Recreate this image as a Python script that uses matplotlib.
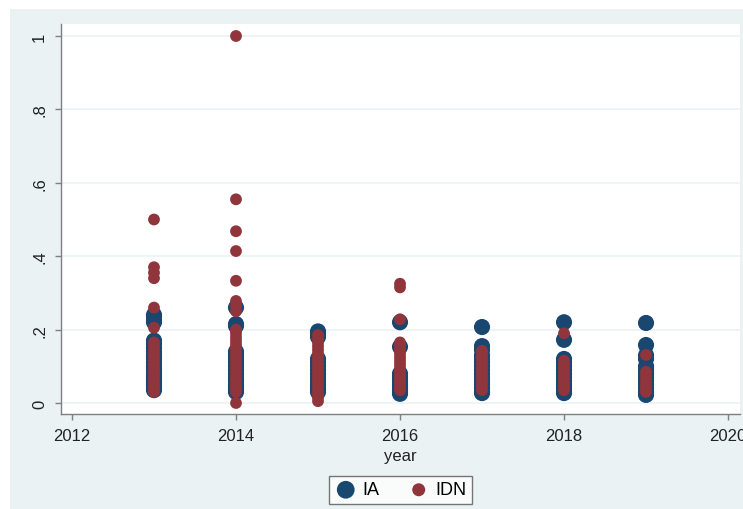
import matplotlib
matplotlib.use("Agg")
import matplotlib.pyplot as plt
from matplotlib.patches import Rectangle

plt.rcParams["font.family"] = ["Liberation Sans", "DejaVu Sans"]

# values by year, one list per group
ia_2013 = [0.24, 0.235, 0.225, 0.22, 0.17, 0.16, 0.15, 0.14, 0.13, 0.125, 0.12, 0.11,
           0.10, 0.095, 0.09, 0.08, 0.075, 0.07, 0.065, 0.06, 0.055, 0.05, 0.045, 0.04, 0.035]
idn_2013 = [0.50, 0.37, 0.355, 0.34, 0.26, 0.205, 0.165, 0.155, 0.145, 0.135, 0.125, 0.115,
            0.105, 0.095, 0.085, 0.075, 0.065, 0.055, 0.045, 0.035, 0.03]

ia_2014 = [0.26, 0.215, 0.21, 0.14, 0.13, 0.12, 0.11, 0.10, 0.09, 0.08, 0.07, 0.065,
           0.06, 0.05, 0.045, 0.04, 0.035, 0.03]
idn_2014 = [1.0, 0.555, 0.468, 0.414, 0.333, 0.278, 0.265, 0.25, 0.20, 0.19, 0.18, 0.17,
            0.16, 0.15, 0.14, 0.13, 0.12, 0.11, 0.10, 0.09, 0.08, 0.07, 0.06, 0.05,
            0.04, 0.03, 0.0]

ia_2015 = [0.195, 0.19, 0.18, 0.12, 0.11, 0.10, 0.09, 0.08, 0.07, 0.06, 0.05, 0.04,
           0.035, 0.03]
idn_2015 = [0.185, 0.175, 0.165, 0.155, 0.145, 0.135, 0.125, 0.115, 0.105, 0.095, 0.085,
            0.075, 0.065, 0.055, 0.045, 0.035, 0.025, 0.015, 0.005]

ia_2016 = [0.22, 0.153, 0.08, 0.07, 0.06, 0.05, 0.045, 0.04, 0.035, 0.03, 0.025]
idn_2016 = [0.325, 0.315, 0.228, 0.165, 0.155, 0.145, 0.135, 0.125, 0.115, 0.105, 0.095,
            0.085, 0.075, 0.065, 0.055, 0.045, 0.035]

ia_2017 = [0.207, 0.155, 0.145, 0.13, 0.12, 0.11, 0.10, 0.09, 0.08, 0.07, 0.06, 0.05,
           0.04, 0.03, 0.027]
idn_2017 = [0.142, 0.135, 0.125, 0.115, 0.105, 0.095, 0.085, 0.075, 0.065, 0.055, 0.045,
            0.035]

ia_2018 = [0.22, 0.172, 0.12, 0.11, 0.10, 0.09, 0.08, 0.07, 0.06, 0.05, 0.04, 0.03, 0.027]
idn_2018 = [0.19, 0.115, 0.105, 0.095, 0.085, 0.075, 0.065, 0.055, 0.045, 0.035]

ia_2019 = [0.218, 0.158, 0.13, 0.12, 0.10, 0.09, 0.08, 0.07, 0.06, 0.05, 0.04, 0.03, 0.022]
idn_2019 = [0.131, 0.085, 0.075, 0.065, 0.055, 0.045, 0.035, 0.03]

years = [2013, 2014, 2015, 2016, 2017, 2018, 2019]
ia_by_year = [ia_2013, ia_2014, ia_2015, ia_2016, ia_2017, ia_2018, ia_2019]
idn_by_year = [idn_2013, idn_2014, idn_2015, idn_2016, idn_2017, idn_2018, idn_2019]

x_ticks = [2012, 2014, 2016, 2018, 2020]
y_ticks = [0, 0.2, 0.4, 0.6, 0.8, 1.0]
y_tick_labels = ["0", ".2", ".4", ".6", ".8", "1"]

navy = "#1a476f"
maroon = "#90353b"
region = "#eaf2f3"

ia_x = [yr for yr, vals in zip(years, ia_by_year) for _ in vals]
ia_y = [v for vals in ia_by_year for v in vals]
idn_x = [yr for yr, vals in zip(years, idn_by_year) for _ in vals]
idn_y = [v for vals in idn_by_year for v in vals]

fig = plt.figure(figsize=(7.43, 5.10), dpi=100, facecolor="white")
# graph region behind the plot
fig.patches.append(Rectangle((10 / 743, 0), 1, 500 / 510, transform=fig.transFigure,
                             facecolor=region, edgecolor="none", zorder=-10))

ax = fig.add_axes([61 / 743, 1 - 415 / 510, 679 / 743, 390 / 510])
ax.set_zorder(1)
ax.set_facecolor("white")

ax.scatter(ia_x, ia_y, s=135, color=navy, edgecolors="none", label="IA", zorder=3)
ax.scatter(idn_x, idn_y, s=72, color=maroon, edgecolors="none", label="IDN", zorder=4)

ax.set_xlim(2011.866, 2020.146)
ax.set_ylim(-0.030, 1.0327)
ax.set_xticks(x_ticks)
ax.set_yticks(y_ticks)
ax.set_yticklabels(y_tick_labels, rotation=90, va="center")
ax.grid(axis="y", color=region, linewidth=1.2, zorder=0)
ax.set_axisbelow(True)

for side in ["top", "right"]:
    ax.spines[side].set_visible(False)
for side in ["left", "bottom"]:
    ax.spines[side].set_color("#7f7f7f")
    ax.spines[side].set_linewidth(1.0)

ax.tick_params(axis="both", direction="out", length=4, width=1, color="#7f7f7f",
               labelsize=12, labelcolor="#222222", pad=6)
ax.set_xlabel("year", fontsize=12, color="#222222", labelpad=4)

leg = fig.legend(loc="center", bbox_to_anchor=(400.5 / 743, 1 - 491 / 510), ncol=2,
                 frameon=True, fancybox=False, fontsize=13, handletextpad=0.3,
                 columnspacing=1.6, borderpad=0.3, handlelength=1.2, markerscale=1.1)
leg.set_zorder(2)
leg.get_frame().set_edgecolor("#555555")
leg.get_frame().set_linewidth(1.0)
leg.get_frame().set_facecolor("white")

fig.savefig("out.png", dpi=100, facecolor=fig.get_facecolor())
